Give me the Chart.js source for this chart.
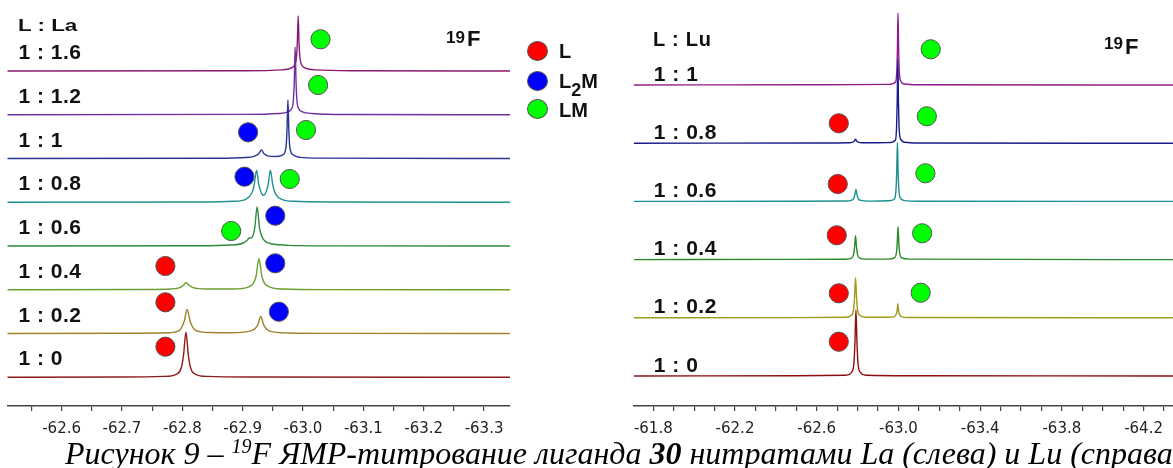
<!DOCTYPE html>
<html>
<head>
<meta charset="utf-8">
<script src="https://cdn.jsdelivr.net/npm/chart.js@4.4.1/dist/chart.umd.min.js"></script>
<style>
html, body { margin: 0; padding: 0; background: #fff; }
body { width: 1173px; height: 468px; position: relative; overflow: hidden; font-family: "Liberation Sans", Arial, sans-serif; }
canvas { position: absolute; top: 0; }
#laChart { left: 0; }
#luChart { left: 620px; }
.t { position: absolute; white-space: nowrap; font-weight: bold; color: #111; }
.dot { position: absolute; width: 19px; height: 18px; border-radius: 50%; border: 1px solid #555; }
#caption { position: absolute; left: 65px; top: 437px; font: italic 32px/32px "Liberation Serif", "Times New Roman", serif; color: #000; white-space: nowrap; }
#caption sup { font-size: 20px; vertical-align: 11px; line-height: 0; }
</style>
</head>
<body>
<canvas id="laChart" width="520" height="468"></canvas>
<canvas id="luChart" width="553" height="468"></canvas>

<div class="t" style="left:18px;top:18px;font-size:16px;line-height:16px;transform:scaleX(1.4);transform-origin:left;">L : La</div>
<div class="t" style="left:653px;top:29px;font-size:20px;line-height:20px;letter-spacing:0.8px;">L : Lu</div>

<div class="t" style="left:446px;top:29px;font-size:17px;line-height:17px;">19</div>
<div class="t" style="left:467px;top:28px;font-size:22px;line-height:22px;">F</div>
<div class="t" style="left:1104px;top:35px;font-size:17px;line-height:17px;">19</div>
<div class="t" style="left:1125px;top:36px;font-size:22px;line-height:22px;">F</div>

<div class="dot" style="left:527px;top:41px;background:#ff0000;"></div>
<div class="dot" style="left:527px;top:71px;background:#0000ff;"></div>
<div class="dot" style="left:527px;top:99px;background:#00ff00;"></div>
<div class="t" style="left:559px;top:41px;font-size:20px;line-height:20px;">L</div>
<div class="t" style="left:559px;top:71px;font-size:20px;line-height:20px;">L<span style="font-size:18px;position:relative;top:8px;">2</span>M</div>
<div class="t" style="left:559px;top:100px;font-size:20px;line-height:20px;">LM</div>

<div id="caption">Рисунок 9 – <sup>19</sup>F ЯМР-титрование лиганда <b>30</b> нитратами La (слева) и Lu (справа)</div>

<script>
// ratios of the titration steps, bottom trace first
const laRatios = ['1 : 0', '1 : 0.2', '1 : 0.4', '1 : 0.6', '1 : 0.8', '1 : 1', '1 : 1.2', '1 : 1.6'];
const luRatios = ['1 : 0', '1 : 0.2', '1 : 0.4', '1 : 0.6', '1 : 0.8', '1 : 1'];

// labelled ticks (ppm)
const laTickLabels = [-62.6, -62.7, -62.8, -62.9, -63.0, -63.1, -63.2, -63.3];
const luTickLabels = [-61.8, -62.2, -62.6, -63.0, -63.4, -63.8, -64.2];

// La spectra: [ppm, intensity]
const la_1_0 = [[-62.510,0],[-62.700,0.3],[-62.770,0.9],[-62.790,3],[-62.798,9],[-62.802,22],[-62.806,45],[-62.810,22],[-62.814,9],[-62.822,3],[-62.842,0.9],[-62.920,0.3],[-63.343,0]];
const la_1_02 = [[-62.510,0],[-62.720,0.3],[-62.775,0.8],[-62.795,3],[-62.803,12],[-62.808,24],[-62.813,12],[-62.822,3.2],[-62.845,1],[-62.880,0.8],[-62.912,2.4],[-62.925,8.5],[-62.930,17],[-62.935,8.5],[-62.946,2.2],[-62.975,0.6],[-63.050,0.2],[-63.343,0]];
const la_1_04 = [[-62.510,0],[-62.740,0.3],[-62.780,0.8],[-62.796,2.2],[-62.802,4.5],[-62.806,7.3],[-62.811,4.5],[-62.818,2.2],[-62.840,0.8],[-62.885,0.8],[-62.910,3],[-62.922,13],[-62.927,31],[-62.932,13],[-62.944,3],[-62.968,0.8],[-63.040,0.2],[-63.343,0]];
const la_1_06 = [[-62.510,0],[-62.820,0.3],[-62.880,1],[-62.900,2.8],[-62.907,5.5],[-62.911,8],[-62.915,8.5],[-62.920,18],[-62.924,39],[-62.928,18],[-62.936,5.5],[-62.950,2],[-62.975,0.7],[-63.050,0.2],[-63.343,0]];
const la_1_08 = [[-62.510,0],[-62.830,0.3],[-62.885,1],[-62.905,3],[-62.915,9],[-62.919,17],[-62.923,32],[-62.927,17],[-62.9345,7],[-62.942,17],[-62.946,32],[-62.950,17],[-62.955,8],[-62.965,3],[-62.985,1],[-63.050,0.3],[-63.343,0]];
const la_1_1 = [[-62.510,0],[-62.850,0.3],[-62.905,1],[-62.920,2.5],[-62.927,5],[-62.931,8.7],[-62.935,5],[-62.943,2.4],[-62.955,2],[-62.966,3.5],[-62.972,12],[-62.9735,29],[-62.975,58.7],[-62.9765,29],[-62.978,12],[-62.984,3.5],[-62.995,1.2],[-63.030,0.4],[-63.343,0]];
const la_1_12 = [[-62.510,0],[-62.900,0.4],[-62.960,1.3],[-62.975,3],[-62.981,6],[-62.984,14],[-62.9855,32],[-62.987,67.7],[-62.9885,32],[-62.990,14],[-62.993,6],[-62.999,3],[-63.015,1.3],[-63.080,0.3],[-63.343,0]];
const la_1_16 = [[-62.510,0],[-62.900,0.3],[-62.965,1.2],[-62.980,3],[-62.986,6],[-62.989,13],[-62.9905,27],[-62.992,55],[-62.9935,27],[-62.995,13],[-62.998,6],[-63.004,3],[-63.020,1.2],[-63.090,0.3],[-63.343,0]];

// Lu spectra: [ppm, intensity]
const lu_1_0 = [[-61.704,0],[-62.500,0.2],[-62.742,0.7],[-62.772,4],[-62.782,13],[-62.787,33],[-62.792,66],[-62.797,33],[-62.802,13],[-62.812,4],[-62.842,0.7],[-63.100,0.2],[-64.344,0]];
const lu_1_02 = [[-61.704,0],[-62.500,0.2],[-62.740,0.5],[-62.770,2.5],[-62.780,8],[-62.785,20],[-62.790,40],[-62.795,20],[-62.800,8],[-62.810,2.5],[-62.840,0.6],[-62.950,0.5],[-62.980,1.2],[-62.990,4],[-62.9935,7],[-62.997,14],[-63.0005,7],[-63.004,4],[-63.014,1.2],[-63.050,0.3],[-64.344,0]];
const lu_1_04 = [[-61.704,0],[-62.500,0.2],[-62.740,0.4],[-62.770,1.5],[-62.780,5],[-62.785,12],[-62.790,24],[-62.795,12],[-62.800,5],[-62.810,1.5],[-62.840,0.5],[-62.950,0.5],[-62.982,2],[-62.990,6.6],[-62.994,16.5],[-62.998,33],[-63.002,16.5],[-63.006,6.6],[-63.014,2],[-63.050,0.5],[-64.344,0]];
const lu_1_06 = [[-61.704,0],[-62.500,0.2],[-62.740,0.4],[-62.768,1],[-62.780,2.5],[-62.786,6],[-62.792,12],[-62.798,6],[-62.804,2.5],[-62.816,1],[-62.850,0.3],[-62.950,0.6],[-62.981,2.5],[-62.988,11.8],[-62.9915,29.5],[-62.995,59],[-62.9985,29.5],[-63.002,11.8],[-63.009,3.5],[-63.030,0.8],[-63.100,0.2],[-64.344,0]];
const lu_1_08 = [[-61.704,0],[-62.600,0.2],[-62.760,0.4],[-62.776,1],[-62.784,2],[-62.790,4],[-62.796,2],[-62.804,1],[-62.820,0.4],[-62.950,0.6],[-62.985,3],[-62.991,16.8],[-62.994,42],[-62.997,84],[-63.000,42],[-63.003,16.8],[-63.009,5],[-63.030,1],[-63.100,0.2],[-64.344,0]];
const lu_1_1 = [[-61.704,0],[-62.600,0.2],[-62.950,0.6],[-62.986,3],[-62.992,14.4],[-62.995,36],[-62.998,72],[-63.001,36],[-63.004,14.4],[-63.010,4.3],[-63.030,1],[-63.100,0.2],[-64.344,0]];

// species markers: [ppm, height above axis]
const laL = [[-62.772,140],[-62.772,103.7],[-62.772,59.3]];
const laL2M = [[-62.909,273.7],[-62.903,229.3],[-62.954,190.3],[-62.954,142.7],[-62.960,94.3]];
const laLM = [[-63.029,366.7],[-63.025,321],[-63.005,276],[-62.978,227],[-62.881,175]];
const luL = [[-62.708,282.7],[-62.703,222],[-62.698,170.7],[-62.708,112.7],[-62.708,64.3]];
const luLM = [[-63.158,356.7],[-63.139,289.7],[-63.132,232.7],[-63.116,172.7],[-63.109,113.3]];

const laSpectra = [la_1_0, la_1_02, la_1_04, la_1_06, la_1_08, la_1_1, la_1_12, la_1_16];
const luSpectra = [lu_1_0, lu_1_02, lu_1_04, lu_1_06, lu_1_08, lu_1_1];

const laColors = ['#8e1b1b', '#a0822a', '#6a9f2f', '#2e8b3c', '#21908f', '#283593', '#7030a0', '#8b1a72'];
const luColors = ['#8e0e0e', '#a09a1a', '#2a8a2a', '#1a9090', '#1a1a8a', '#8e1c8e'];

const ratioLabels = {
    id: 'ratioLabels',
    afterDatasetsDraw(chart, args, o) {
        const ctx = chart.ctx;
        const y = chart.scales.y;
        ctx.save();
        ctx.font = 'bold 21px "Liberation Sans", Arial, sans-serif';
        ctx.letterSpacing = '0.5px';
        ctx.fillStyle = '#111';
        ctx.textBaseline = 'alphabetic';
        o.labels.forEach((t, i) => {
            ctx.fillText(t, o.x, y.getPixelForValue(o.base + i * o.step) - o.gap);
        });
        ctx.restore();
    }
};

function dotSet(data, color){
    return {
        data: data,
        showLine: false,
        pointRadius: 9.6,
        pointBackgroundColor: color,
        pointBorderColor: '#555',
        pointBorderWidth: 1
    };
}

function makeChart(id, cfg){
    const datasets = [];
    cfg.dots.forEach(d => datasets.push(dotSet(d[0], d[1])));
    cfg.spectra.forEach((s, i) => {
        const off = cfg.base + i * cfg.step;
        datasets.push({
            data: s.map(p => ({x: p[0], y: p[1] + off})),
            borderColor: cfg.colors[i],
            borderWidth: 1.4,
            pointRadius: 0,
            cubicInterpolationMode: 'monotone'
        });
    });
    return new Chart(document.getElementById(id), {
        type: 'line',
        data: {datasets},
        plugins: [ratioLabels],
        options: {
            responsive: false,
            animation: false,
            events: [],
            layout: {padding: cfg.padding, autoPadding: false},
            scales: {
                x: {
                    type: 'linear',
                    reverse: true,
                    min: cfg.min,
                    max: cfg.max,
                    afterFit: s => { s.height = 62; },
                    border: {display: true, color: '#444', width: 1.5},
                    grid: {drawOnChartArea: false, drawTicks: true, tickLength: 5, color: '#444', lineWidth: 1.2},
                    ticks: {
                        stepSize: cfg.tickStep,
                        autoSkip: false,
                        includeBounds: false,
                        maxRotation: 0,
                        padding: 9,
                        color: '#222',
                        font: {family: '"DejaVu Sans", Verdana, sans-serif', size: 15},
                        callback: v => cfg.tickLabels.some(l => Math.abs(l - v) < 1e-6) ? v.toFixed(1) : ''
                    }
                },
                y: {display: false, min: 0, max: 406}
            },
            plugins: {
                legend: {display: false},
                tooltip: {enabled: false},
                ratioLabels: {labels: cfg.labels, x: cfg.labelX, base: cfg.base, step: cfg.step, gap: cfg.gap}
            }
        }
    });
}

makeChart('laChart', {
    spectra: laSpectra, colors: laColors, labels: laRatios,
    dots: [[laL, '#ff0000'], [laL2M, '#0000ff'], [laLM, '#00ff00']],
    base: 28.7, step: 43.75, gap: 12, labelX: 18.5,
    min: -63.343, max: -62.510, tickStep: 0.05, tickLabels: laTickLabels,
    padding: {left: 7.3, right: 10, top: 0, bottom: 0}
});

makeChart('luChart', {
    spectra: luSpectra, colors: luColors, labels: luRatios,
    dots: [[luL, '#ff0000'], [luLM, '#00ff00']],
    base: 30, step: 58.2, gap: 4.5, labelX: 33.8,
    min: -64.344, max: -61.704, tickStep: 0.1, tickLabels: luTickLabels,
    padding: {left: 13.7, right: 0, top: 0, bottom: 0}
});
</script>
</body>
</html>
